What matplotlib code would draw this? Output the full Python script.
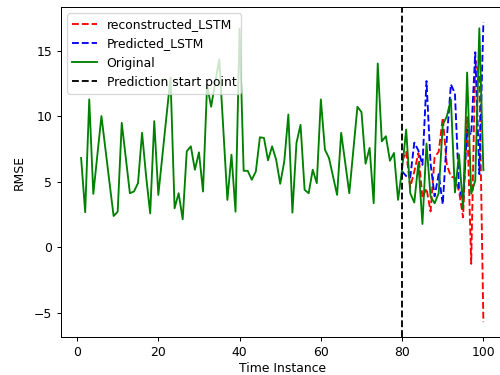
import numpy as np
import matplotlib
matplotlib.use("Agg")
import matplotlib.pyplot as plt

# time axis
t_orig = np.arange(1, 101)
t_pred = np.arange(80, 101)

original = [6.83, 2.69, 11.3, 4.09, 7.06, 10.03, 7.47, 4.91, 2.40, 2.73,
            9.51, 6.83, 4.14, 4.27, 4.91, 8.75, 5.42, 2.6, 9.64, 4.01,
            7.0, 10.0, 12.97, 2.99, 4.14, 2.15, 7.34, 7.72, 5.93, 7.26,
            4.27, 12.4, 10.74, 12.6, 14.35, 9.0, 3.63, 7.08, 2.73, 16.7,
            5.85, 5.85, 5.17, 5.8, 8.41, 8.36, 6.65, 7.72, 6.7, 4.86,
            6.57, 10.15, 2.66, 7.98, 9.36, 4.40, 4.14, 5.93, 4.91, 11.3,
            7.47, 6.83, 5.42, 4.01, 8.75, 6.45, 4.14, 7.44, 10.74, 10.33,
            6.39, 7.6, 3.38, 14.04, 8.1, 8.49, 6.62, 7.21, 3.63, 6.0,
            9.0, 4.14, 3.43, 6.45, 1.79, 7.93, 3.89, 3.37, 4.14, 9.38,
            10.0, 11.3, 4.2, 7.1, 3.0, 13.35, 4.1, 5.1, 16.73, 5.9]

reconstructed = [6.6, 7.3, 4.6, 5.8, 7.2, 3.8, 4.5, 2.75, 6.9, 7.3, 9.9,
                 6.3, 5.42, 5.3, 4.3, 2.3, 9.95, -1.25, 14.3, 13.0, -5.7]

predicted = [5.8, 5.45, 5.35, 8.0, 7.4, 6.3, 12.7, 6.4, 3.9, 5.6, 3.3,
             8.3, 12.45, 11.75, 4.5, 3.63, 9.0, 8.6, 14.9, 5.6, 17.2]

start_point = 80

dpi = 89
fig = plt.figure(figsize=(500 / dpi, 375 / dpi), dpi=dpi)
ax = fig.add_axes([0.122, 0.101, 0.885, 0.88])

ax.plot(t_pred, reconstructed, 'r--', label='reconstructed_LSTM')
ax.plot(t_pred, predicted, 'b--', label='Predicted_LSTM')
ax.plot(t_orig, original, 'g-', label='Original')
ax.axvline(start_point, color='k', linestyle='--', label='Prediction start point')

ax.set_xlabel('Time Instance', labelpad=3)
ax.set_ylabel('RMSE', labelpad=7)
ax.legend(loc='upper left')

fig.savefig('out.png', dpi=dpi)
